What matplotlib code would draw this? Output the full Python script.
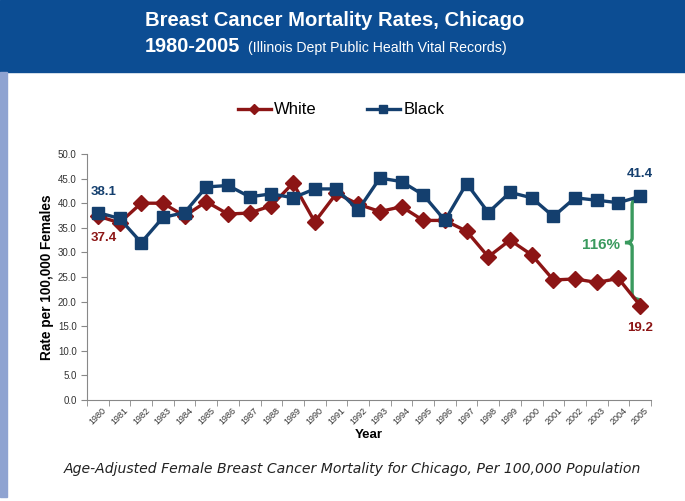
import numpy as np
import matplotlib
matplotlib.use("Agg")
from matplotlib import pyplot as plt
from matplotlib.patches import Rectangle
from matplotlib.path import Path
from matplotlib.patches import PathPatch

years = [str(y) for y in range(1980, 2006)]
white = [37.4, 36.0, 40.0, 40.0, 37.4, 40.3, 37.8, 38.0, 39.5, 44.1, 36.2, 42.0, 39.8,
         38.3, 39.3, 36.5, 36.5, 34.3, 29.1, 32.5, 29.5, 24.4, 24.6, 23.9, 24.7, 19.2]
black = [38.1, 36.9, 32.0, 37.1, 38.1, 43.3, 43.6, 41.3, 41.9, 41.1, 42.9, 42.9, 38.6,
         45.1, 44.4, 41.7, 36.5, 44.0, 38.1, 42.2, 41.1, 37.3, 41.1, 40.6, 40.1, 41.4]
yticks = np.arange(0, 50.1, 5)

RED = "#8c1515"
NAVY = "#143f6e"
GREEN = "#3a9a5e"

plt.rcParams["font.family"] = ["Liberation Sans", "DejaVu Sans"]

fig = plt.figure(figsize=(6.85, 5.01), dpi=100)

# banner and side bar
fig.patches.append(Rectangle((0, 1 - 72 / 501), 1, 72 / 501, transform=fig.transFigure,
                             color="#0c4d93", zorder=0))
fig.patches.append(Rectangle((0, 4 / 501), 7 / 685, (497 - 72) / 501, transform=fig.transFigure,
                             color="#8fa3d1", zorder=0))
fig.text(145 / 685, 1 - 20 / 501, "Breast Cancer Mortality Rates, Chicago", color="white",
         fontsize=14.6, fontweight="bold", va="center", ha="left")
fig.text(145 / 685, 1 - 47 / 501, "1980-2005", color="white",
         fontsize=14.3, fontweight="bold", va="center", ha="left")
fig.text(248 / 685, 1 - 48 / 501, "(Illinois Dept Public Health Vital Records)", color="white",
         fontsize=10.2, va="center", ha="left")

ax = fig.add_axes([87 / 685, 1 - 400 / 501, (651 - 87) / 685, (400 - 154) / 501])
x = np.arange(len(years))
ax.plot(x, white, color=RED, lw=2.4, marker="D", ms=8, label="White", zorder=3)
ax.plot(x, black, color=NAVY, lw=2.4, marker="s", ms=9, label="Black", zorder=3)

ax.set_xlim(-0.5, len(years) - 0.5)
ax.set_ylim(0, 50)
ax.set_yticks(yticks)
ax.set_yticklabels(["%.1f" % v for v in yticks], fontsize=7, color="#333333")
ax.set_xticks(x)
ax.set_xticklabels(years, rotation=45, fontsize=6.5, color="#333333")
ax.tick_params(axis="x", length=0, pad=4)
ax.set_xticks(np.arange(-0.5, len(years)), minor=True)
ax.tick_params(axis="x", which="minor", length=4, color="#888888")
ax.tick_params(axis="y", length=4, color="#888888")
for s in ["top", "right"]:
    ax.spines[s].set_visible(False)
for s in ["left", "bottom"]:
    ax.spines[s].set_color("#888888")

ax.set_xlabel("Year", fontsize=9.5, fontweight="bold", labelpad=2)
ax.set_ylabel("Rate per 100,000 Females", fontsize=9.8, fontweight="bold", labelpad=3)

# value labels
ax.annotate("%.1f" % black[0], (x[0], black[0]), xytext=(4, 15), textcoords="offset points",
            ha="center", va="center", color=NAVY, fontsize=9.5, fontweight="bold")
ax.annotate("%.1f" % white[0], (x[0], white[0]), xytext=(4, -16), textcoords="offset points",
            ha="center", va="center", color=RED, fontsize=9.5, fontweight="bold")
ax.annotate("%.1f" % black[-1], (x[-1], black[-1]), xytext=(0, 16), textcoords="offset points",
            ha="center", va="center", color=NAVY, fontsize=9.5, fontweight="bold")
ax.annotate("%.1f" % white[-1], (x[-1], white[-1]), xytext=(0, -16), textcoords="offset points",
            ha="center", va="center", color=RED, fontsize=9.5, fontweight="bold")

# curly brace between the 2005 values
bx = x[-1] - 0.37
verts = [(x[-1] - 0.1, 41.2), (bx, 40.9), (bx, 39.6),
         (bx, 32.9),
         (bx, 32.0), (bx - 0.33, 32.0),
         (bx, 32.0), (bx, 31.1),
         (bx, 21.7),
         (bx, 20.6), (x[-1] - 0.02, 20.4)]
codes = [Path.MOVETO, Path.CURVE3, Path.CURVE3,
         Path.LINETO,
         Path.CURVE3, Path.CURVE3,
         Path.CURVE3, Path.CURVE3,
         Path.LINETO,
         Path.CURVE3, Path.CURVE3]
ax.add_patch(PathPatch(Path(verts, codes), fill=False, edgecolor=GREEN, lw=2.4, zorder=2))
ax.text(bx - 0.55, 31.6, "116%", color=GREEN, fontsize=11, fontweight="bold",
        ha="right", va="center")

ax.legend(loc="center", bbox_to_anchor=(341 / 685, 1 - 110 / 501),
          bbox_transform=fig.transFigure, ncol=2, frameon=False, fontsize=12,
          handlelength=2.0, columnspacing=3.0, handletextpad=0.2, markerscale=0.6)

fig.text(352 / 685, 1 - 469 / 501,
         "Age-Adjusted Female Breast Cancer Mortality for Chicago, Per 100,000 Population",
         family="DejaVu Sans", style="italic", fontsize=10.1, ha="center", va="center",
         color="#222222")

fig.savefig("out.png", dpi=100)
